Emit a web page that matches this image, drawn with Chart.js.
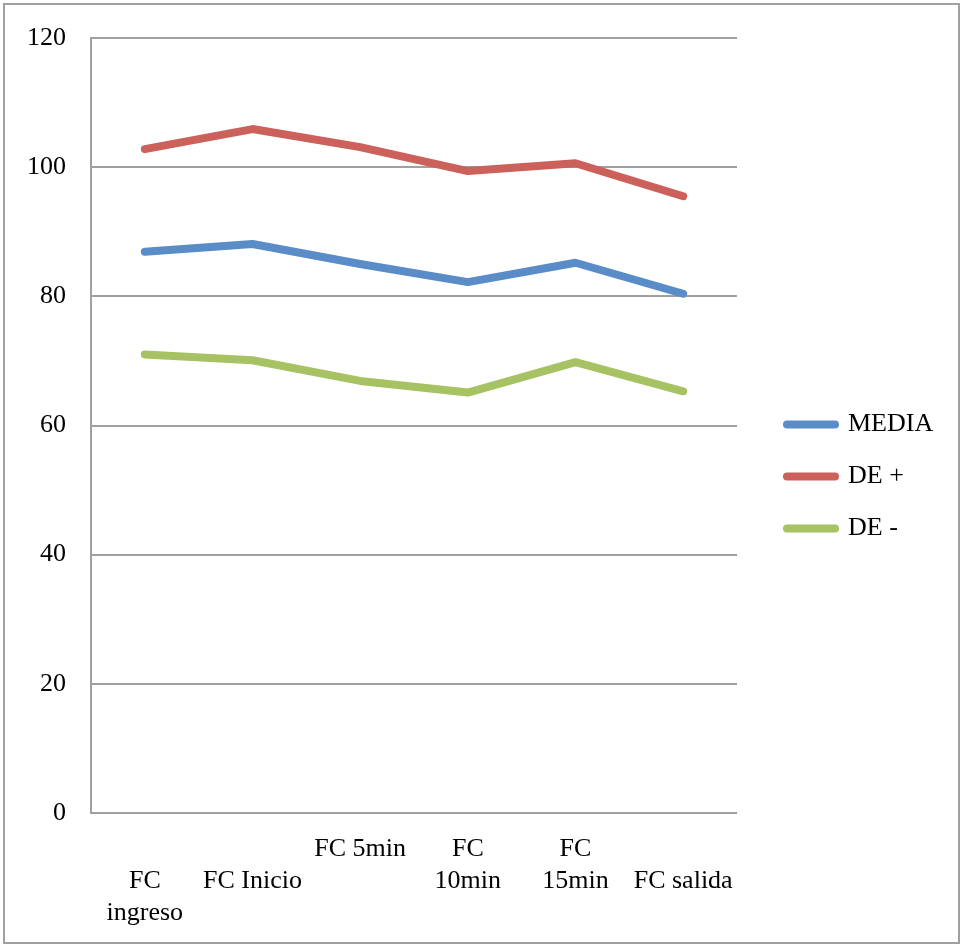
<!DOCTYPE html>
<html>
<head>
<meta charset="utf-8">
<script src="https://cdn.jsdelivr.net/npm/chart.js@4/dist/chart.umd.min.js"></script>
<style>
  html, body { margin: 0; padding: 0; background: #fff; }
  #wrap { position: relative; width: 963px; height: 946px; }
  #frame { position: absolute; left: 3px; top: 3px; width: 953px; height: 937px; border: 2px solid #a0a0a0; pointer-events: none; }
  canvas { display: block; }
</style>
</head>
<body>
<div id="wrap">
  <canvas id="c" width="963" height="946"></canvas>
  <div id="frame"></div>
</div>
<script>
const categories = [["", "FC", "ingreso"], ["", "FC Inicio"], ["FC 5min"], ["FC", "10min"], ["FC", "15min"], ["", "FC salida"]];
const media  = [86.9, 88.1, 85.0, 82.2, 85.2, 80.4];
const dePlus = [102.8, 105.9, 103.1, 99.4, 100.6, 95.5];
const deMinus = [71.0, 70.1, 66.9, 65.1, 69.8, 65.3];
const seriesNames = ["MEDIA", "DE +", "DE -"];
const colors = ["#5a8dc8", "#cc615b", "#a6c262"];

const FONT = "'Liberation Serif', 'Times New Roman', serif";
const FS = 26;

function ds(label, data, color) {
  return {
    label, data,
    borderColor: color, backgroundColor: color,
    borderWidth: 8, borderCapStyle: 'round', borderJoinStyle: 'round',
    pointRadius: 0, pointHoverRadius: 0, tension: 0, fill: false
  };
}

const chart = new Chart(document.getElementById('c'), {
  type: 'line',
  data: {
    labels: categories,
    datasets: [ds(seriesNames[0], media, colors[0]), ds(seriesNames[1], dePlus, colors[1]), ds(seriesNames[2], deMinus, colors[2])]
  },
  options: {
    responsive: false,
    animation: false,
    events: [],
    layout: { padding: { top: 4, bottom: -3, left: 0, right: 3 } },
    plugins: {
      tooltip: { enabled: false },
      legend: {
        position: 'right',
        align: 'center',
        maxWidth: 400,
        labels: {
          usePointStyle: true,
          pointStyle: 'line',
          pointStyleWidth: 48,
          boxHeight: FS,
          padding: 26,
          color: '#000',
          font: { family: FONT, size: FS },
          generateLabels: (ch) => Chart.defaults.plugins.legend.labels.generateLabels(ch).map((item, i) => ({
            ...item,
            lineCap: 'round',
            lineWidth: 8,
            strokeStyle: colors[i],
            fillStyle: colors[i]
          }))
        }
      }
    },
    scales: {
      x: {
        type: 'category',
        offset: true,
        grid: { display: false, drawTicks: false },
        border: { display: false },
        ticks: {
          color: '#000', font: { family: FONT, size: FS, lineHeight: 32 / FS },
          padding: 20, maxRotation: 0, autoSkip: false
        },
        afterFit: s => { s.height = 136; }
      },
      topSpacer: {
        type: 'linear', position: 'top', display: true,
        grid: { display: false, drawTicks: false }, border: { display: false },
        ticks: { display: false },
        afterFit: s => { s.height = 30; }
      },
      y: {
        min: 0, max: 120,
        grid: { color: '#a0a0a0', lineWidth: 2, drawTicks: false },
        border: { display: true, color: '#a0a0a0', width: 2 },
        ticks: { stepSize: 20, color: '#000', font: { family: FONT, size: FS, lineHeight: 1.0 }, padding: 25 },
        afterFit: s => { s.width = 91; }
      },
      rightSpacer: {
        type: 'linear', position: 'right', display: true,
        grid: { display: false, drawTicks: false }, border: { display: false },
        ticks: { display: false },
        afterFit: s => { s.width = 24; }
      }
    }
  }
});

// fit the plot's right edge to the reference by adjusting the outer padding
for (let i = 0; i < 2; i++) {
  const delta = chart.chartArea.right - 737;
  if (Math.abs(delta) < 0.5) break;
  chart.options.layout.padding.right += delta;
  chart.update();
}
</script>
</body>
</html>
